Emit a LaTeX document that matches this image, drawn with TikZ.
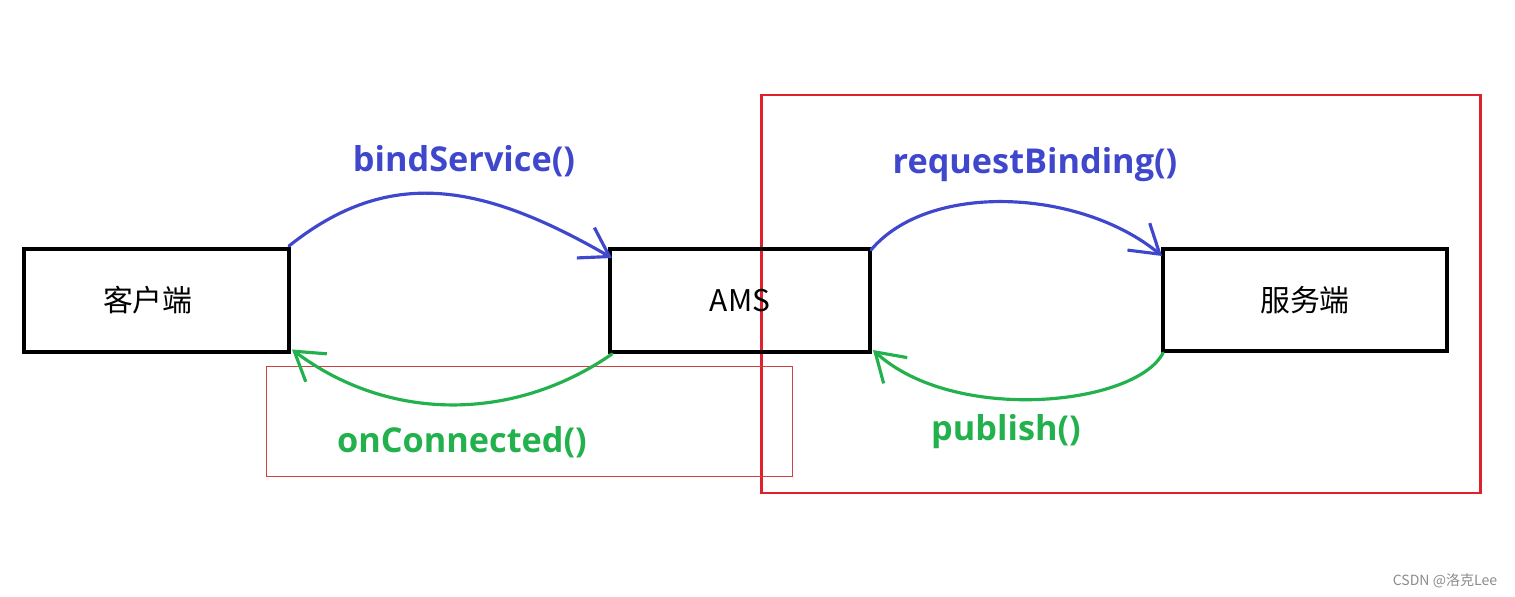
\documentclass[tikz,border=0pt]{standalone}
\usepackage{fontspec}
\setmainfont{Open Sans}
\newfontfamily\cjkfont{Noto Sans CJK SC}
\usetikzlibrary{arrows.meta}
\definecolor{inkblue}{HTML}{3F48CC}
\definecolor{inkgreen}{HTML}{22B14C}
\definecolor{boxred}{HTML}{E0202A}
\definecolor{thinred}{HTML}{D04040}
\tikzset{
  box/.style={draw=black, line width=2.3pt, outer sep=0pt, inner sep=0pt, font=\cjkfont\fontsize{17pt}{20pt}\selectfont},
  bluelink/.style={draw=inkblue, line width=1.8pt, line cap=round, -{Straight Barb[length=0.55cm, width=0.7cm, line width=1.8pt]}},
  greenlink/.style={draw=inkgreen, line width=1.8pt, line cap=round, -{Straight Barb[length=0.55cm, width=0.7cm, line width=1.8pt]}},
  bluelabel/.style={text=inkblue, font=\bfseries\fontsize{19.5pt}{22pt}\selectfont, inner sep=0pt},
  greenlabel/.style={text=inkgreen, font=\bfseries\fontsize{19.5pt}{22pt}\selectfont, inner sep=0pt},
  wmark/.style={text=black!45, font=\cjkfont\fontsize{8pt}{10pt}\selectfont, inner sep=0pt}
}
\begin{document}
\begin{tikzpicture}[x=0.02cm, y=-0.02cm]
\useasboundingbox (0,0) rectangle (1515,597);
% frames
\draw[boxred, line width=1.7pt] (761,95) rectangle (1480,493);
\draw[thinred, line width=0.5pt] (266,366) rectangle (792,476);
% boxes
\node[box, minimum width=5.3cm, minimum height=2.06cm, text width=5.0cm, align=left] (client) at (156.5,300.5) {\hspace*{1.43cm}客户端};
\node[box, minimum width=5.2cm, minimum height=2.06cm] (ams) at (740,300.5) {AMS};
\node[box, minimum width=5.68cm, minimum height=2.04cm] (server) at (1305,300) {服务端};
% labels
\node[bluelabel] (lbind) at (464,161) {bindService()};
\node[bluelabel] (lreq) at (1035,165) {requestBinding()};
\node[greenlabel] (lconn) at (462,442) {onConnected()};
\node[greenlabel] (lpub) at (1006,432) {publish()};
% connectors
\draw[bluelink] ([yshift=0.06cm]client.north east) .. controls +(100,-80) and +(-130,-75) .. ([xshift=0.04cm,yshift=-0.18cm]ams.north west);
\draw[greenlink] ([xshift=0.04cm,yshift=-0.04cm]ams.south west) .. controls +(-98,68) and +(97,73) .. ([xshift=0.06cm,yshift=0.05cm]client.south east);
\draw[bluelink] ([xshift=0.02cm,yshift=-0.02cm]ams.north east) .. controls +(58,-69) and +(-81,-67) .. ([xshift=-0.02cm,yshift=-0.14cm]server.north west);
\draw[greenlink] ([yshift=-0.04cm]server.south west) .. controls +(-28,53) and +(81,74) .. ([xshift=0.06cm,yshift=0.04cm]ams.south east);
% watermark
\node[wmark] (wm) at (1445,581) {CSDN @洛克Lee};
\end{tikzpicture}
\end{document}
